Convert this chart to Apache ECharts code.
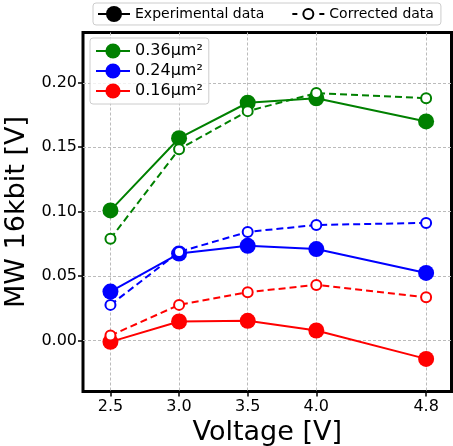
<!DOCTYPE html>
<html>
<head>
<meta charset="utf-8">
<script src="https://cdn.jsdelivr.net/npm/echarts@6/dist/echarts.min.js"></script>
<style>html,body{margin:0;padding:0;background:#fff}#c{width:453px;height:446px}</style>
</head>
<body>
<div id="c"></div>
<script>
const voltages = [2.5, 3.0, 3.5, 4.0, 4.8];
const xTicks = [2.5, 3.0, 3.5, 4.0, 4.8];
const yTicks = [0.00, 0.05, 0.10, 0.15, 0.20];
const sizeLabels = ['0.36μm²', '0.24μm²', '0.16μm²'];
const exp036 = [0.101, 0.157, 0.1845, 0.188, 0.170];
const cor036 = [0.079, 0.1485, 0.178, 0.192, 0.188];
const exp024 = [0.038, 0.0675, 0.0735, 0.071, 0.0525];
const cor024 = [0.0277, 0.0688, 0.0843, 0.0897, 0.0913];
const exp016 = [-0.001, 0.0148, 0.0153, 0.0078, -0.0142];
const cor016 = [0.0039, 0.0277, 0.0375, 0.0432, 0.0336];
const colors = ['#008000', '#0000ff', '#ff0000'];

const expSets = [exp036, exp024, exp016];
const corSets = [cor036, cor024, cor016];
const pairs = v => voltages.map((x, i) => [x, v[i]]);

const series = [];
for (let k = 0; k < 3; k++) {
  series.push({
    name: sizeLabels[k], type: 'line', data: pairs(expSets[k]),
    symbol: 'circle', symbolSize: 16,
    lineStyle: {color: colors[k], width: 2},
    itemStyle: {color: colors[k]},
    z: 2 + k * 2
  });
  series.push({
    name: sizeLabels[k] + ' corrected', type: 'line', data: pairs(corSets[k]),
    symbol: 'circle', symbolSize: 10,
    lineStyle: {color: colors[k], width: 2, type: [7, 4]},
    itemStyle: {color: '#fff', borderColor: colors[k], borderWidth: 2},
    z: 3 + k * 2
  });
}
series.push({
  name: 'Experimental data', type: 'line', data: [],
  symbol: 'circle', symbolSize: 16,
  lineStyle: {color: '#000', width: 2}, itemStyle: {color: '#000'}
});
series.push({
  name: 'Corrected data', type: 'line', data: [],
  symbol: 'circle', symbolSize: 10,
  lineStyle: {color: '#000', width: 2, type: [4, 3]},
  itemStyle: {color: '#fff', borderColor: '#000', borderWidth: 2}
});

// legend glyph for the corrected-data entry: short dash, ring, short dash
const corIcon = 'path://M0,9L5,9L5,11L0,11Z' +
  'M10,10A6,6 0 1 1 22,10A6,6 0 1 1 10,10Z' +
  'M12,10A4,4 0 1 0 20,10A4,4 0 1 0 12,10Z' +
  'M27,9L32,9L32,11L27,11Z' +
  'M0,0.01L0.01,0.01M32,19.99L31.99,19.99';

const font = 'DejaVu Sans';
const chart = echarts.init(document.getElementById('c'), null, {renderer: 'canvas'});
chart.setOption({
  animation: false,
  textStyle: {fontFamily: font},
  grid: {left: 83, top: 32.5, width: 368.5, height: 359, show: true,
         containLabel: false, outerBoundsMode: 'none',
         borderColor: '#000', borderWidth: 3, backgroundColor: 'transparent'},
  legend: [{
    data: ['Experimental data', {name: 'Corrected data', icon: corIcon,
           itemStyle: {color: '#000', borderWidth: 0}}],
    left: 93, top: 3, orient: 'horizontal',
    itemWidth: 32, itemHeight: 20, itemGap: 28,
    padding: [1, 7, 1, 4],
    borderColor: '#cccccc', borderWidth: 1, borderRadius: 3,
    textStyle: {fontFamily: font, fontSize: 14, color: '#000'},
    selectedMode: false
  }, {
    data: sizeLabels,
    left: 90, top: 38, orient: 'vertical',
    itemWidth: 34, itemHeight: 19, itemGap: 4,
    padding: [5, 6, 5, 5],
    borderColor: '#cccccc', borderWidth: 1, borderRadius: 3,
    backgroundColor: 'rgba(255,255,255,0.8)',
    textStyle: {fontFamily: font, fontSize: 16, color: '#000'},
    selectedMode: false, z: 10
  }],
  xAxis: {
    type: 'value', min: 2.3, max: 4.985,
    name: 'Voltage [V]', nameLocation: 'middle', nameGap: 25,
    nameTextStyle: {fontFamily: font, fontSize: 27, color: '#000'},
    axisLine: {show: false, onZero: false},
    axisTick: {show: true, customValues: xTicks, length: 5, lineStyle: {color: '#000', width: 1.5}},
    axisLabel: {customValues: xTicks, formatter: v => v.toFixed(1), fontFamily: font, fontSize: 16, color: '#000', margin: 7.5},
    splitLine: {show: true, lineStyle: {color: '#bbbbbb', width: 1, type: [3, 2]}}
  },
  yAxis: {
    type: 'value', min: -0.0395, max: 0.239,
    name: 'MW 16kbit [V]', nameLocation: 'middle', nameGap: 50,
    nameTextStyle: {fontFamily: font, fontSize: 27, color: '#000'},
    axisLine: {show: false, onZero: false},
    axisTick: {show: true, customValues: yTicks, length: 5, lineStyle: {color: '#000', width: 1.5}},
    axisLabel: {customValues: yTicks, formatter: v => v.toFixed(2), fontFamily: font, fontSize: 16, color: '#000', margin: 6},
    splitLine: {show: true, lineStyle: {color: '#bbbbbb', width: 1, type: [3, 2]}}
  },
  series: series
});
</script>
</body>
</html>
